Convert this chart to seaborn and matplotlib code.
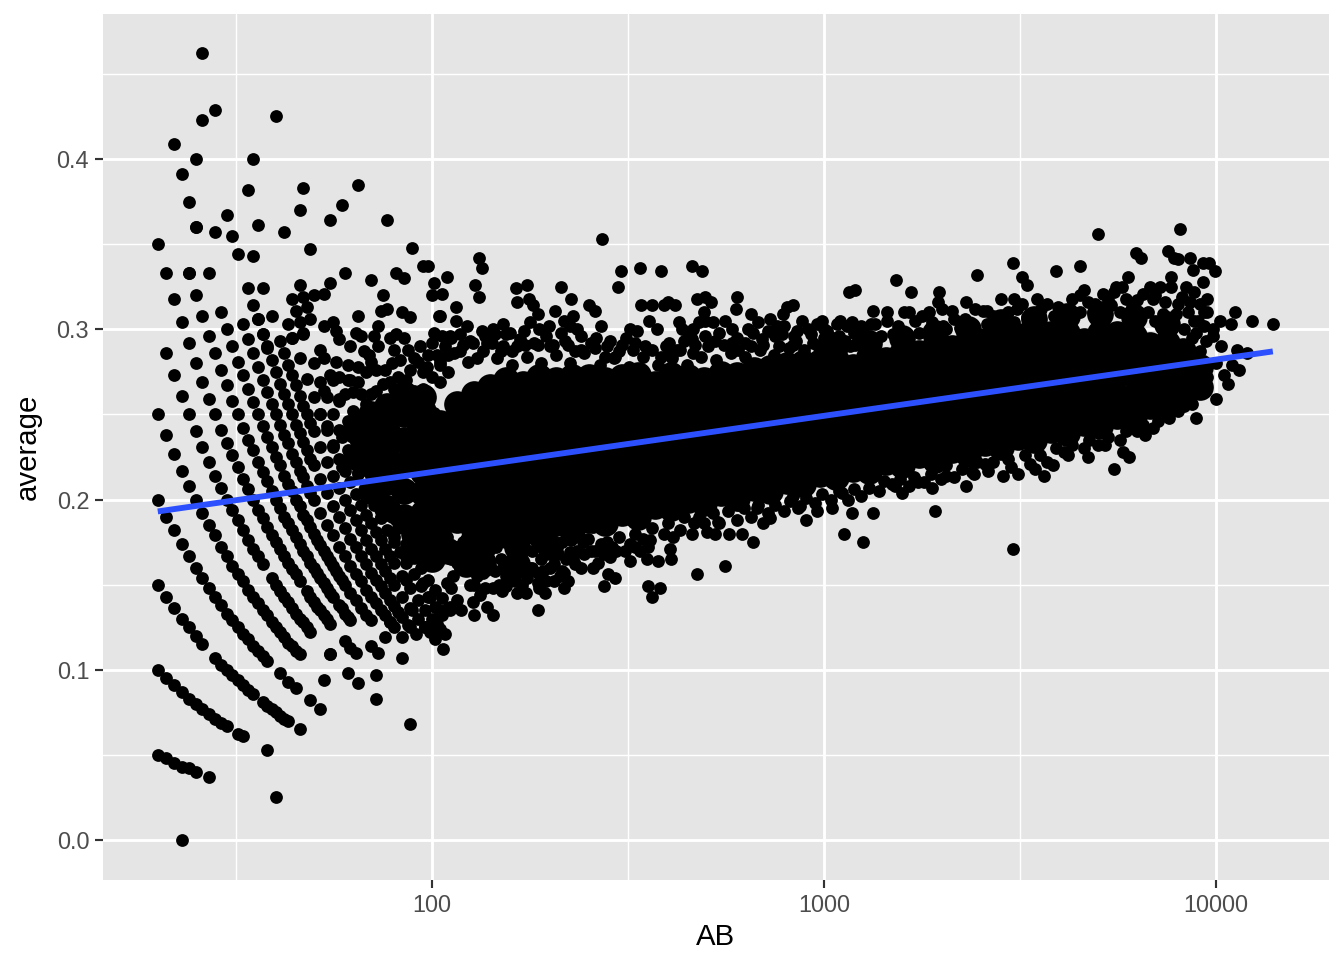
import pandas as pd
import seaborn as sns
import matplotlib.pyplot as plt

# Values: at bats (AB) and batting average

# arcs on the left, one list pair per hit count
h0_ab = [23]
h0_avg = [0.0]
h1_ab = [20, 21, 22, 23, 24, 25, 27, 40]
h1_avg = [.05, .048, .045, .043, .042, .04, .037, .025]
h2_ab = [20, 21, 22, 23, 24, 25, 26, 27, 28, 29, 30, 32, 33, 38]
h2_avg = [.1, .095, .091, .087, .083, .08, .077, .074, .071, .069, .067, .0625, .061, .053]
h3_ab = [20, 21, 22, 23, 24, 25, 26, 28, 29, 30, 31, 32, 33, 34, 35, 37, 38, 39, 40, 41, 42, 43, 46]
h3_avg = [.15, .143, .136, .13, .125, .12, .115, .107, .103, .1, .097, .094, .091, .088, .086,
          .081, .079, .077, .075, .073, .071, .07, .065]
h4_ab = [20, 21, 22, 23, 24, 25, 26, 27, 28, 29, 30, 31, 32, 33, 34, 35, 36, 37, 38, 41, 43, 45, 49, 52]
h4_avg = [.2, .19, .182, .174, .167, .16, .154, .148, .143, .138, .133, .129, .125, .121, .118,
          .114, .111, .108, .105, .098, .093, .089, .082, .077]
h5_ab = [20, 21, 22, 23, 24, 25, 26, 27, 28, 29, 30, 31, 32, 33, 34, 35, 36, 37, 38, 39, 40, 41, 42, 43, 44, 45, 46, 53]
h5_avg = [.25, .238, .227, .217, .208, .2, .192, .185, .179, .172, .167, .161, .156, .152, .147,
          .143, .139, .135, .132, .128, .125, .122, .119, .116, .114, .111, .109, .094]
h6_ab = [21, 22, 23, 24, 25, 26, 27, 28, 29, 30, 31, 32, 33, 34, 35, 36, 37, 39, 40, 41, 42, 43, 44, 45, 46, 47, 48, 49,
         55, 61, 65, 72, 88]
h6_avg = [.286, .273, .261, .25, .24, .231, .222, .214, .207, .2, .194, .188, .182, .176, .171,
          .167, .162, .154, .15, .146, .143, .14, .136, .133, .13, .128, .125, .122,
          .109, .098, .092, .083, .068]
h7_ab = [20, 22, 23, 24, 25, 26, 27, 28, 29, 30, 31, 32, 33, 34, 35, 36, 37, 38, 39, 40, 41, 42, 43, 44, 45, 46,
         48, 49, 50, 51, 52, 53, 54, 55, 72]
h7_avg = [.35, .318, .304, .292, .28, .269, .259, .25, .241, .233, .226, .219, .212, .206, .2,
          .194, .189, .184, .179, .175, .171, .167, .163, .159, .156, .152,
          .146, .143, .14, .137, .135, .132, .13, .127, .097]
h8_ab = [24, 25, 26, 27, 28, 29, 30, 31, 32, 33, 34, 35, 36, 37, 38, 39, 40, 41, 42, 43, 44, 45, 46, 47, 48, 49, 50,
         51, 52, 53, 54, 55, 56, 58, 59, 60, 61, 62]
h8_avg = [.333, .32, .308, .296, .286, .276, .267, .258, .25, .242, .235, .229, .222, .216, .211,
          .205, .2, .195, .19, .186, .182, .178, .174, .17, .167, .163, .16,
          .157, .154, .151, .148, .145, .143, .138, .136, .133, .131, .129]
h9_ab = [22, 23, 25, 27, 29, 30, 31, 32, 33, 34, 35, 36, 37, 38, 39, 40, 41, 42, 43, 44, 45, 46, 47, 48, 49, 50,
         51, 52, 53, 54, 55, 56, 57, 58, 59, 60, 62, 64, 66, 68, 70]
h9_avg = [.409, .391, .36, .333, .31, .3, .29, .281, .273, .265, .257, .25, .243, .237, .231,
          .225, .22, .214, .209, .205, .2, .196, .191, .188, .184, .18,
          .176, .173, .17, .167, .164, .161, .158, .155, .153, .15, .145, .141, .136, .132, .129]
h10_ab = [33, 34, 35, 36, 37, 38, 39, 40, 41, 42, 43, 44, 45, 46, 47, 48, 49, 50, 52, 54, 56, 58, 60, 62, 64, 66, 68,
          70, 72, 74, 76, 78, 80]
h10_avg = [.303, .294, .286, .278, .27, .263, .256, .25, .244, .238, .233, .227, .222, .217, .213,
           .208, .204, .2, .192, .185, .179, .172, .167, .161, .156, .152, .147,
           .143, .139, .135, .132, .128, .125]
h11_ab = [36, 37, 38, 39, 40, 41, 42, 43, 44, 45, 46, 47, 48, 49, 50, 52, 54, 56, 58, 60, 62, 64, 66, 68,
          70, 72, 74, 76, 78, 80, 84, 88, 91]
h11_avg = [.306, .297, .289, .282, .275, .268, .262, .256, .25, .244, .239, .234, .229, .224, .22,
           .212, .204, .196, .19, .183, .177, .172, .167, .162,
           .157, .153, .149, .145, .141, .1375, .131, .125, .121]
h12_ab = [41, 42, 43, 44, 45, 46, 47, 48, 49, 50, 52, 54, 56, 58, 60, 62, 64, 66, 68, 70, 72, 74, 76, 78, 80,
          84, 88, 92, 96]
h12_avg = [.293, .286, .279, .273, .267, .261, .255, .25, .245, .24, .231, .222, .214, .207, .2,
           .194, .188, .182, .176, .171, .167, .162, .158, .154, .15, .143, .136, .13, .125]
h13_ab = [44, 46, 48, 50, 52, 54, 56, 58, 60, 62, 64, 66, 68, 70, 72, 74, 76, 78, 80, 84, 88, 92, 96, 100, 105]
h13_avg = [.295, .283, .271, .26, .25, .241, .232, .224, .217, .21, .203, .197, .191, .186, .181,
           .176, .171, .167, .1625, .155, .148, .141, .135, .13, .124]
h14_ab = [47, 50, 53, 56, 59, 62, 65, 68, 71, 74, 77, 80, 83, 86, 90, 94, 98, 102, 106]
h14_avg = [.298, .28, .264, .25, .237, .226, .215, .206, .197, .189, .182, .175, .169, .163,
           .156, .149, .143, .137, .132]
h15_ab = [52, 55, 58, 61, 64, 67, 70, 73, 76, 79, 82, 86, 90, 94, 98, 102, 106, 110]
h15_avg = [.288, .273, .259, .246, .234, .224, .214, .205, .197, .19, .183, .174, .167, .16,
           .153, .147, .142, .136]

# loose points above the arcs
top_left = [(26, .462), (28, .429), (26, .423), (40, .425), (25, .4), (35, .4), (34, .382), (47, .383),
            (65, .385), (24, .375), (59, .373), (46, .37), (55, .364), (77, .364), (30, .367), (25, .36),
            (28, .357), (31, .355), (36, .361), (42, .357), (49, .347), (89, .348), (32, .344), (35, .343),
            (21, .333), (24, .333), (60, .333), (81, .333), (95, .337), (98, .337), (85, .33), (109, .331),
            (101, .327), (55, .327), (70, .329), (46, .326), (34, .324), (37, .324), (75, .32), (100, .32),
            (106, .321), (44, .318), (47, .319), (50, .32), (53, .321), (48, .313), (35, .314), (45, .311),
            (74, .311), (77, .312), (84, .31), (88, .307), (115, .313), (65, .308), (104, .308), (115, .305),
            (39, .308), (36, .306), (49, .306), (46, .304), (43, .303), (53, .302), (56, .304), (73, .302),
            (37, .297), (47, .297), (57, .299), (44, .295), (38, .29), (58, .294), (64, .298), (71, .296),
            (78, .295), (81, .297), (85, .295), (101, .298), (106, .296), (112, .295), (100, .292)]

# speckled part between the arcs and the dense band
inner_left = [(53, .283), (57, .281), (61, .279), (70, .281), (76, .276), (83, .282), (92, .281), (105, .281),
              (52, .269), (56, .27), (61, .27), (65, .269), (72, .264), (78, .269), (86, .27), (95, .275),
              (105, .269), (54, .26), (58, .258), (63, .263), (68, .256), (74, .254), (83, .262), (92, .257),
              (101, .251), (52, .25), (54, .243), (58, .241), (64, .249), (71, .243), (80, .247), (89, .241),
              (101, .239), (56, .231), (61, .229), (68, .229), (77, .231), (86, .229), (97, .228), (59, .219),
              (65, .216), (74, .218), (83, .218), (93, .216), (105, .219), (68, .206), (75, .204), (84, .202),
              (95, .2), (107, .202), (74, .19), (81, .188), (92, .19), (103, .188), (113, .19), (80, .178),
              (88, .176), (99, .178), (109, .178), (86, .166), (97, .166), (107, .169), (116, .163), (95, .151),
              (86, .153), (99, .143), (109, .151), (111, .137), (62, .29), (67, .287), (73, .29), (80, .288),
              (87, .288), (93, .29), (98, .285), (88, .276), (75, .268), (68, .275), (100, .272), (97, .262),
              (90, .264), (70, .262), (78, .258), (86, .252), (60, .262), (63, .252), (95, .265), (66, .296),
              (69, .285), (72, .276), (79, .28), (82, .272), (90, .283), (97, .278), (103, .285), (110, .275),
              (65, .278), (58, .272), (62, .27), (66, .262), (72, .252), (60, .24), (66, .238), (76, .248), (80, .265)]

# upper edge of the band
upper_edge = [(272, .353), (132, .342), (134, .336), (129, .326), (132, .319), (164, .324), (175, .326),
              (165, .316), (177, .318), (181, .314), (187, .309), (213, .325), (227, .318), (206, .311),
              (178, .304), (199, .302), (217, .305), (229, .308), (234, .3), (251, .314), (260, .311),
              (303, .334), (299, .325), (339, .336), (384, .334), (461, .337), (488, .334), (341, .314),
              (365, .314), (390, .314), (400, .316), (418, .314), (357, .305), (334, .299), (427, .304),
              (474, .318), (497, .319), (515, .316), (494, .31), (497, .305), (520, .304), (601, .319),
              (597, .312), (653, .309), (582, .3), (727, .306), (790, .302), (786, .309), (805, .313),
              (832, .314), (854, .299), (990, .305), (1155, .322), (1200, .323), (1145, .302), (1180, .304),
              (1335, .311), (1320, .303), (305, .291), (463, .3), (450, .295), (134, .299), (152, .303),
              (158, .298), (123, .302), (145, .297), (105, .308), (186, .291), (204, .291), (222, .291),
              (240, .288), (260, .289), (276, .284), (293, .284), (326, .288), (168, .294), (173, .291),
              (152, .29), (160, .287), (138, .292), (127, .292), (118, .297), (111, .296), (405, .288),
              (385, .284), (422, .288), (463, .286), (497, .296), (527, .293), (582, .292), (628, .292),
              (695, .294), (750, .296), (833, .291), (925, .297), (1020, .299), (1055, .29), (1165, .29),
              (1220, .294), (1530, .329), (1670, .322), (1970, .322), (2450, .332), (3030, .339), (3200, .331),
              (3300, .326), (3900, .334), (4500, .337), (5000, .356), (6230, .345), (6420, .342), (7550, .346),
              (7800, .342), (8000, .341), (8100, .359), (8600, .342), (9250, .339), (9600, .339), (9950, .334),
              (8750, .335), (9250, .328), (7650, .331), (5950, .331), (5750, .325), (5550, .325), (4600, .323),
              (5150, .321), (6800, .325), (7200, .325), (7650, .325), (6500, .321), (8800, .322), (9500, .318),
              (8200, .319), (2830, .318), (3050, .318), (2430, .312), (2540, .311), (2000, .312), (2120, .311),
              (1780, .308), (1710, .305), (1880, .304), (2010, .302), (1540, .302), (2290, .306), (3100, .312),
              (2700, .308), (3570, .312), (3960, .313), (4240, .312), (5400, .314), (6100, .313), (3380, .304),
              (4700, .316)]

# denser rows just under the upper edge
top_fill = [(105, .279), (114, .286), (124, .281), (135, .287), (147, .283), (160, .279), (175, .284), (190, .28),
            (207, .285), (225, .28), (245, .286), (268, .279), (292, .283), (318, .278), (346, .284), (377, .279),
            (410, .283), (447, .279), (487, .284), (530, .282), (578, .286), (630, .284), (686, .288), (747, .285),
            (814, .289), (887, .288), (966, .29), (1053, .29), (108, .29), (118, .287), (142, .292), (155, .297),
            (172, .299), (195, .296), (213, .298), (240, .296), (262, .295), (285, .293), (312, .295), (350, .29),
            (395, .29), (440, .293), (470, .291), (540, .298), (600, .295), (660, .298), (720, .299), (780, .297),
            (850, .293), (910, .3), (1000, .295), (1090, .296), (1190, .298), (1240, .302), (1100, .289),
            (1200, .291), (1300, .292), (1400, .296), (1500, .297), (1620, .298), (1750, .298), (1900, .299),
            (2050, .3), (2220, .301), (2400, .302), (2600, .303), (2800, .305), (3050, .304), (3300, .307),
            (3550, .308), (3850, .308), (4150, .309), (4500, .31), (4850, .31), (5250, .309), (5700, .31),
            (6200, .31), (6700, .31), (7300, .309), (7900, .309), (8500, .31), (9000, .305), (1350, .303),
            (1450, .305), (1600, .31), (1850, .31), (2150, .306), (2600, .311), (2950, .31), (3200, .315),
            (3700, .315), (4300, .318), (4900, .315), (5300, .317), (5900, .318), (6300, .317), (6900, .318),
            (7400, .316), (8000, .315), (8600, .316), (9100, .315), (7000, .305), (7700, .302), (8300, .3),
            (8900, .298), (9400, .293), (9100, .287), (8700, .295), (1000, .3), (1080, .303), (1260, .3),
            (110, .285), (120, .291), (130, .283), (137, .296), (150, .287), (165, .29), (182, .292), (200, .29),
            (218, .293), (232, .287), (255, .292), (280, .29), (300, .287), (330, .292), (365, .288), (402, .292),
            (430, .288), (460, .294), (505, .29), (555, .291), (605, .288), (650, .29), (700, .291), (770, .29),
            (840, .296), (940, .292), (1030, .296), (1130, .293), (125, .293), (143, .3), (188, .3), (225, .302),
            (270, .302), (320, .3), (375, .3), (435, .3), (480, .304), (560, .305), (640, .3), (680, .304),
            (760, .302), (880, .305), (960, .303), (1100, .305), (8800, .305), (9300, .302), (9800, .3), (9300, .31),
            (8400, .325), (7000, .32), (5500, .322), (4500, .32), (3500, .318), (2300, .316), (1950, .316),
            (1650, .31), (1450, .31)]

# lower edge of the band
lower_edge = [(55, .109), (60, .117), (62, .113), (64, .11), (70, .114), (73, .11), (76, .119), (78, .128),
              (82, .134), (87, .126), (84, .119), (84, .107), (89, .135), (96, .125), (99, .122), (102, .118),
              (103, .127), (108, .121), (107, .112), (104, .135), (111, .135), (186, .135), (138, .137),
              (143, .132), (128, .132), (119, .135), (194, .145), (217, .148), (205, .152), (186, .151),
              (174, .145), (165, .145), (151, .146), (155, .149), (133, .144), (137, .148), (125, .15),
              (116, .141), (275, .149), (293, .154), (281, .156), (257, .16), (217, .157), (186, .157),
              (355, .149), (382, .148), (365, .143), (473, .156), (558, .161), (377, .164), (407, .165),
              (354, .165), (320, .164), (285, .166), (229, .165), (405, .171), (412, .178), (355, .172),
              (345, .177), (658, .175), (619, .18), (573, .18), (527, .18), (502, .181), (1255, .175),
              (1125, .18), (1180, .192), (1335, .192), (1050, .195), (902, .188), (858, .195), (960, .193),
              (700, .186), (728, .189), (608, .197), (833, .202), (1110, .204), (676, .195), (537, .187),
              (466, .186), (257, .184), (243, .175), (227, .176), (225, .169), (288, .172), (320, .174),
              (120, .175), (130, .168), (140, .176), (150, .165), (160, .172), (170, .163), (180, .17),
              (125, .16), (135, .157), (145, .158), (155, .155), (165, .157), (175, .154), (190, .165),
              (200, .16), (210, .168), (220, .165), (118, .16), (1920, .193), (3030, .171), (1580, .204),
              (1490, .209), (1880, .207), (1740, .21), (2300, .208), (2050, .214), (2415, .215), (2860, .214),
              (3120, .215), (3450, .218), (3640, .214), (3830, .22), (2570, .221), (5500, .218), (6000, .225),
              (5800, .228), (4700, .225), (5000, .232), (4100, .228), (6600, .238), (7100, .246), (7650, .253)]

# denser rows just over the lower edge
bottom_fill = [(115, .172), (122, .177), (132, .174), (146, .172), (158, .177), (172, .172), (185, .175),
               (198, .172), (215, .175), (235, .17), (250, .177), (270, .174), (300, .178), (330, .18), (365, .183),
               (400, .186), (440, .19), (480, .19), (520, .192), (570, .193), (625, .195), (680, .197), (750, .197),
               (820, .199), (900, .201), (990, .203), (1090, .205), (1190, .206), (1300, .207), (1420, .211),
               (1560, .212), (1700, .213), (1870, .215), (2050, .22), (2250, .218), (2450, .222), (2700, .222),
               (2950, .224), (3250, .226), (3550, .226), (3900, .23), (4300, .232), (4750, .235), (5300, .237),
               (5900, .24), (6500, .244), (7200, .25), (113, .155), (122, .165), (128, .15), (140, .165), (148, .15),
               (158, .162), (170, .15), (180, .16), (195, .152), (205, .172), (215, .158), (240, .16), (255, .17),
               (265, .163), (310, .17), (340, .17), (127, .14), (112, .148), (112, .165), (118, .17), (125, .17),
               (130, .155), (137, .165), (143, .148), (152, .16), (163, .152), (167, .168), (178, .16), (188, .148),
               (192, .158), (205, .162), (212, .155), (222, .152), (232, .162), (245, .168), (260, .17), (275, .168),
               (280, .175), (295, .17), (330, .172), (360, .176), (390, .18), (430, .182), (460, .18), (495, .186),
               (540, .186), (600, .188), (650, .19), (720, .192), (790, .193), (870, .196), (950, .198), (1040, .2),
               (1150, .2), (1240, .202), (1380, .205), (1520, .208), (1650, .208), (1800, .21), (1990, .212),
               (2150, .213), (2380, .216), (2620, .217), (3000, .219), (3350, .221), (3700, .222), (4200, .226),
               (4600, .23), (5200, .232), (5700, .235), (6300, .24), (6900, .242), (7600, .248), (8300, .255),
               (8800, .262)]

# right hand tip
right_tip = [(8900, .248), (8700, .256), (10000, .259), (9200, .263), (10700, .268), (10500, .273), (11450, .276),
             (11000, .279), (12000, .286), (11300, .288), (13950, .303), (12350, .305), (11200, .31), (10900, .303),
             (10250, .305), (9500, .31), (9800, .296), (10300, .29), (10000, .28), (9500, .272), (8000, .252)]

# the solid middle of the cloud, column by column
core_ab = [64, 70, 77, 85, 95, 105, 116, 128, 141, 155, 171, 188, 207, 228, 251, 277, 305, 336, 370, 408, 449, 495,
           545, 601, 662, 729, 804, 885, 975, 1075, 1184, 1305, 1438, 1584, 1745, 1923, 2119, 2335, 2572, 2834,
           3123, 3441, 3791, 4177, 4603, 5071, 5588, 6157, 6783, 7474, 8235, 9073,
           1075, 1305, 1584, 1923, 2335, 2834, 3441, 4177, 5071, 6157, 7474,
           90, 100, 110, 122, 135, 165, 200]
core_avg = [[.225, .24],
            [.205, .22, .235, .25],
            [.195, .21, .225, .24, .255],
            [.19, .205, .22, .235, .25, .262],
            [.18, .192, .204, .216, .228, .24, .252, .26],
            [.185, .197, .209, .221, .233, .245],
            [.188, .2, .212, .224, .236, .248, .256],
            [.182, .194, .206, .218, .23, .242, .254, .262],
            [.185, .197, .209, .221, .233, .245, .257, .266],
            [.179, .191, .203, .215, .227, .239, .251, .263, .27],
            [.184, .196, .208, .22, .232, .244, .256, .268],
            [.18, .192, .204, .216, .228, .24, .252, .264, .272],
            [.186, .198, .21, .222, .234, .246, .258, .27],
            [.182, .194, .206, .218, .23, .242, .254, .266, .272],
            [.188, .2, .212, .224, .236, .248, .26, .272],
            [.186, .198, .21, .222, .234, .246, .258, .27],
            [.192, .204, .216, .228, .24, .252, .264, .272],
            [.19, .202, .214, .226, .238, .25, .262, .273],
            [.196, .208, .22, .232, .244, .256, .268],
            [.195, .207, .219, .231, .243, .255, .267, .273],
            [.2, .212, .224, .236, .248, .26, .272],
            [.198, .21, .222, .234, .246, .258, .27],
            [.204, .216, .228, .24, .252, .264, .274],
            [.201, .213, .225, .237, .249, .261, .273],
            [.207, .219, .231, .243, .255, .267, .276],
            [.205, .217, .229, .241, .253, .265, .277],
            [.211, .223, .235, .247, .259, .271, .279],
            [.209, .221, .233, .245, .257, .269, .28],
            [.215, .227, .239, .251, .263, .275, .281],
            [.213, .225, .237, .249, .261, .273, .282],
            [.218, .23, .242, .254, .266, .278],
            [.217, .229, .241, .253, .265, .277, .284],
            [.222, .234, .246, .258, .27, .282],
            [.22, .232, .244, .256, .268, .28, .286],
            [.226, .238, .25, .262, .274, .286],
            [.223, .235, .247, .259, .271, .283, .29],
            [.229, .241, .253, .265, .277, .289],
            [.227, .239, .251, .263, .275, .287, .293],
            [.233, .245, .257, .269, .281, .293],
            [.231, .243, .255, .267, .279, .291, .295],
            [.237, .249, .261, .273, .285, .296],
            [.235, .247, .259, .271, .283, .295],
            [.241, .253, .265, .277, .289, .297],
            [.239, .251, .263, .275, .287, .298],
            [.245, .257, .269, .281, .293],
            [.243, .255, .267, .279, .291, .298],
            [.249, .261, .273, .285, .297],
            [.249, .261, .273, .285, .296],
            [.255, .267, .279, .291],
            [.257, .269, .281, .292],
            [.264, .276, .287],
            [.266, .278],
            [.291], [.292], [.295], [.298], [.3], [.304], [.306], [.308], [.309], [.307], [.303],
            [.17, .18], [.165, .175], [.17], [.17, .162], [.172, .162], [.172, .162], [.172]]

# fitted line
line_ab = [20, 13950]
line_avg = [.193, .287]

x_ticks = [100, 1000, 10000]
x_labels = ['100', '1000', '10000']
x_minor = [31.62, 316.2, 3162]
y_ticks = [0.0, 0.1, 0.2, 0.3, 0.4]
y_labels = ['0.0', '0.1', '0.2', '0.3', '0.4']
y_minor = [.05, .15, .25, .35, .45]

arcs = [(h0_ab, h0_avg), (h1_ab, h1_avg), (h2_ab, h2_avg), (h3_ab, h3_avg), (h4_ab, h4_avg), (h5_ab, h5_avg),
        (h6_ab, h6_avg), (h7_ab, h7_avg), (h8_ab, h8_avg), (h9_ab, h9_avg), (h10_ab, h10_avg), (h11_ab, h11_avg),
        (h12_ab, h12_avg), (h13_ab, h13_avg), (h14_ab, h14_avg), (h15_ab, h15_avg)]

rows = []
for ab_list, avg_list in arcs:
    rows += list(zip(ab_list, avg_list))
rows += top_left + inner_left + upper_edge + top_fill + lower_edge + bottom_fill + right_tip
points = pd.DataFrame(rows, columns=['AB', 'average'])

core_rows = []
for ab, values in zip(core_ab, core_avg):
    core_rows += [(ab, v) for v in values]
core = pd.DataFrame(core_rows, columns=['AB', 'average'])

sns.set_theme(style='darkgrid', rc={'axes.facecolor': '#E5E5E5', 'grid.color': 'white'})
plt.rcParams['font.family'] = ['Liberation Sans', 'DejaVu Sans']

fig = plt.figure(figsize=(7, 5), dpi=192)
ax = fig.add_axes([103 / 1344, 80 / 960, 1226 / 1344, 866 / 960])
ax.set_xscale('log')

sns.scatterplot(data=core, x='AB', y='average', color='black', s=100, linewidth=0, ax=ax)
sns.scatterplot(data=points, x='AB', y='average', color='black', s=23, linewidth=0, ax=ax)
sns.lineplot(x=line_ab, y=line_avg, color='#2D50FF', linewidth=2.2, errorbar=None, ax=ax,
             solid_capstyle='butt')

ax.set_xlim(14.5, 19400)
ax.set_ylim(-0.0235, 0.4852)

ax.set_xticks(x_ticks)
ax.set_xticklabels(x_labels)
ax.set_xticks(x_minor, minor=True)
ax.set_xticklabels([], minor=True)
ax.set_yticks(y_ticks)
ax.set_yticklabels(y_labels)
ax.set_yticks(y_minor, minor=True)

ax.set_axisbelow(True)
ax.grid(which='major', color='white', linewidth=1.07)
ax.grid(which='minor', color='white', linewidth=0.53)
ax.tick_params(which='major', length=3, width=0.8, color='#333333', labelcolor='#4D4D4D',
               labelsize=8.8, pad=2.2, bottom=True, left=True)
ax.tick_params(which='minor', length=0)
for side in ax.spines.values():
    side.set_visible(False)

ax.set_xlabel('AB', fontsize=11, color='black', labelpad=2.2)
ax.set_ylabel('average', fontsize=11, color='black', labelpad=5.5)

fig.savefig('out.png', dpi=192)
